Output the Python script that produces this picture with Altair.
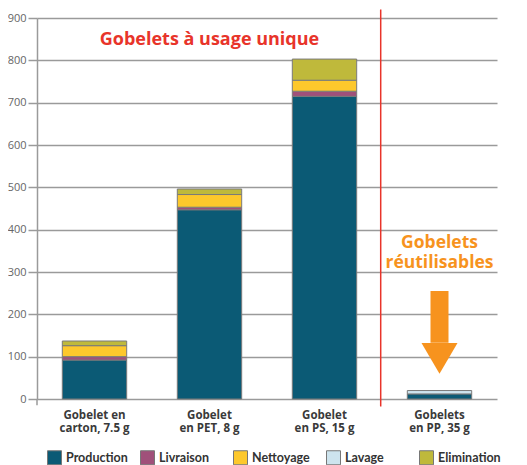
import altair as alt
import pandas as pd

categories = ["Gobelet en\ncarton, 7.5 g", "Gobelet\nen PET, 8 g", "Gobelet\nen PS, 15 g", "Gobelets\nen PP, 35 g"]
stages = ["Production", "Livraison", "Nettoyage", "Lavage", "Elimination"]
production = [92, 447, 715, 12]
livraison = [8, 6, 12, 0]
nettoyage = [26, 30, 26, 0]
lavage = [0, 0, 0, 8]
elimination = [11, 13, 50, 0]
stage_colors = ["#0b5a75", "#a0507a", "#fdc82c", "#cde4ee", "#bfb93b"]
y_ticks = list(range(0, 901, 100))

title_single = "Gobelets à usage unique"
title_reuse = "Gobelets\nréutilisables"

series = [production, livraison, nettoyage, lavage, elimination]
rows = []
for i, cat in enumerate(categories):
    for j, stage in enumerate(stages):
        v = series[j][i]
        if v > 0:
            rows.append({"gobelet": cat, "etape": stage, "ordre": j, "valeur": v})
df = pd.DataFrame(rows)

FONT = "Open Sans"
GRID = "#9a9a9a"

xscale = alt.Scale(domain=categories, paddingInner=0.44, paddingOuter=0.22)
yscale = alt.Scale(domain=[0, 900], nice=False, zero=True)

bars = alt.Chart(df).mark_bar(stroke="#7a7a7a", strokeWidth=1).encode(
    x=alt.X("gobelet:N", scale=xscale, sort=categories,
            axis=alt.Axis(title=None, domain=False, ticks=False, labelAngle=0,
                          labelExpr="split(datum.label, '\\n')",
                          labelFont=FONT, labelFontWeight="bold", labelFontSize=11.5,
                          labelColor="#3a3a3a", labelPadding=10, labelLineHeight=13.5)),
    y=alt.Y("valeur:Q", stack="zero", scale=yscale,
            axis=alt.Axis(title=None, values=y_ticks, grid=True, gridColor=GRID, gridWidth=1.5,
                          tickColor=GRID, tickWidth=1.5, tickSize=9,
                          domainColor=GRID, domainWidth=1.5,
                          labelFont=FONT, labelFontSize=11, labelColor="#666666", labelPadding=2)),
    color=alt.Color("etape:N", scale=alt.Scale(domain=stages, range=stage_colors),
                    legend=alt.Legend(title=None, orient="none", legendX=10, legendY=432,
                                      direction="horizontal", columns=5, gridAlign="all",
                                      columnPadding=9, symbolType="square", symbolSize=196,
                                      symbolStrokeColor="#777777", symbolStrokeWidth=1,
                                      labelFont="Lato", labelFontWeight="bold", labelFontSize=12.5,
                                      labelColor="#333333", labelOffset=4)),
    order=alt.Order("ordre:Q"),
)

sep_df = pd.DataFrame({"gobelet": [categories[2]], "y": [-18], "y2": [920]})
sep = alt.Chart(sep_df).mark_rule(color="#e8342a", strokeWidth=1.5, xOffset=24).encode(
    x=alt.X("gobelet:N", scale=xscale, bandPosition=1),
    y=alt.Y("y:Q", scale=yscale),
    y2="y2:Q",
)

axis_ext = alt.Chart(pd.DataFrame({"y": [-15], "y2": [0]})).mark_rule(color=GRID, strokeWidth=1.5).encode(
    x=alt.value(0), y=alt.Y("y:Q", scale=yscale), y2="y2:Q"
)

arrow_df = pd.DataFrame({"gobelet": [categories[3]], "y": [255], "y2": [133], "head": [96]})
shaft = alt.Chart(arrow_df).mark_rule(color="#f7931e", strokeWidth=18, strokeCap="butt").encode(
    x=alt.X("gobelet:N", scale=xscale), y=alt.Y("y:Q", scale=yscale), y2="y2:Q"
)
head = alt.Chart(arrow_df).mark_point(
    shape="M -1 -0.86 L 1 -0.86 L 0 0.86 Z", filled=True, size=1296, color="#f7931e", opacity=1, strokeWidth=0
).encode(x=alt.X("gobelet:N", scale=xscale), y=alt.Y("head:Q", scale=yscale))

t1 = alt.Chart(pd.DataFrame({"gobelet": [categories[1]], "y": [849], "t": [title_single]})).mark_text(
    font=FONT, fontWeight="bold", fontSize=18, color="#e8342a", baseline="middle", align="center"
).encode(x=alt.X("gobelet:N", scale=xscale), y=alt.Y("y:Q", scale=yscale), text="t:N")

t2 = alt.Chart(pd.DataFrame({"gobelet": [categories[3]], "y": [369], "t": [title_reuse]})).mark_text(
    font=FONT, fontWeight="bold", fontSize=17.5, color="#f7931e", baseline="middle", align="center",
    lineBreak="\n", lineHeight=20
).encode(x=alt.X("gobelet:N", scale=xscale), y=alt.Y("y:Q", scale=yscale), text="t:N")

chart = alt.layer(bars, axis_ext, sep, shaft, head, t1, t2).properties(
    width=460, height=381,
    autosize=alt.AutoSizeParams(type="none"),
    padding={"left": 29, "top": 10, "right": 14, "bottom": 66},
).configure_view(stroke=None)

chart.save("out.html", embed_options={"renderer": "svg", "actions": False})
